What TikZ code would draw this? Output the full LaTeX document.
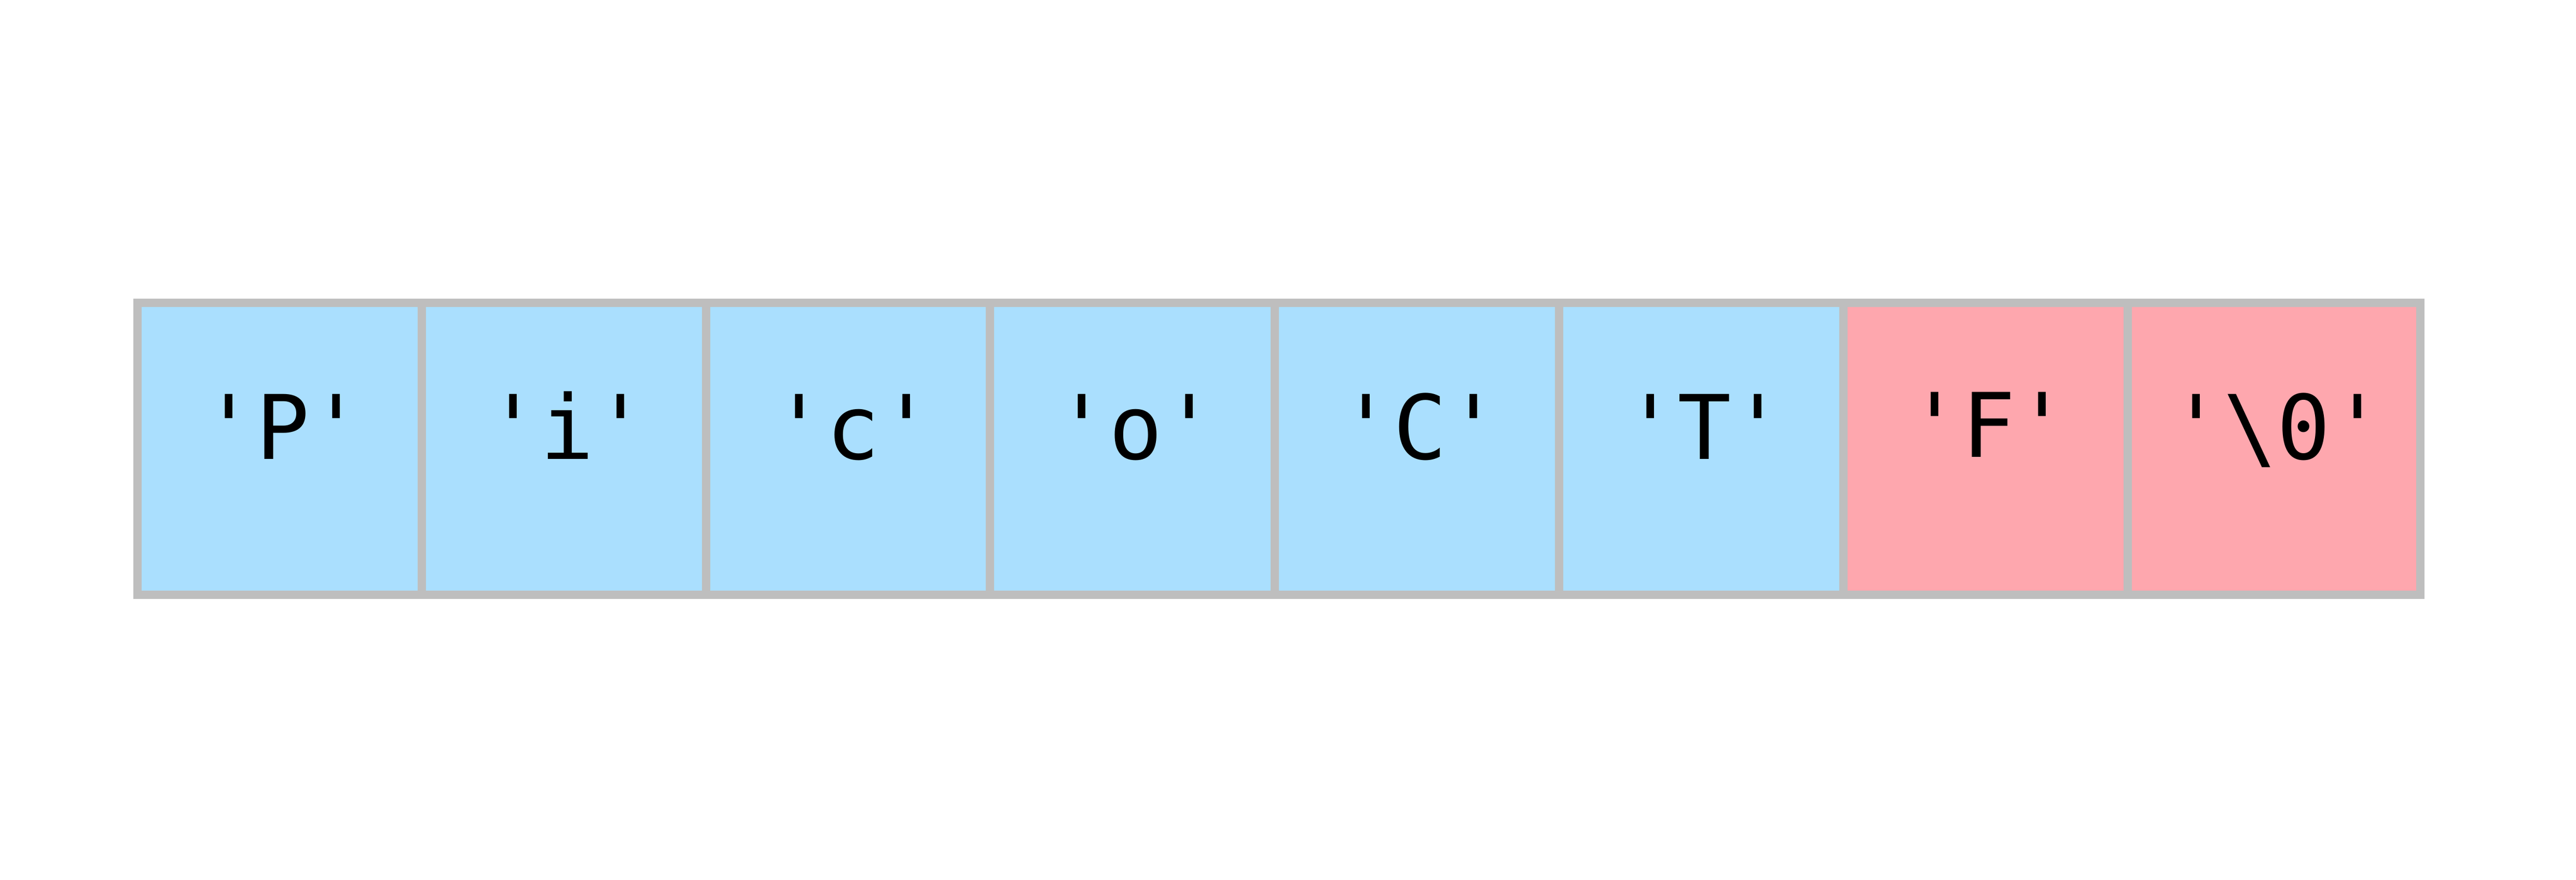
\documentclass[tikz,border=0pt]{standalone}
\usepackage{fontspec}
\setmonofont{DejaVu Sans Mono}
\definecolor{cellblue}{RGB}{170,223,254}
\definecolor{cellred}{RGB}{254,167,174}
\definecolor{cellgray}{RGB}{190,190,190}
\begin{document}
\begin{tikzpicture}[
		grid/.style={draw=cellgray, line width=0.16cm},
		letter/.style={font=\ttfamily\fontsize{48.9}{58}\selectfont, anchor=base, inner sep=0pt}]
		\useasboundingbox[fill=white] (0,0) rectangle (49.65,16.96);

		\fill[cellblue] (2.65,5.49) rectangle (35.53,11.12);
		\fill[cellred] (35.53,5.49) rectangle (46.65,11.12);

		\draw[grid] (2.65,5.49) rectangle (46.65,11.12);

		\draw[grid] (8.13,5.49) -- (8.13,11.12);
		\draw[grid] (13.61,5.49) -- (13.61,11.12);
		\draw[grid] (19.08,5.49) -- (19.08,11.12);
		\draw[grid] (24.57,5.49) -- (24.57,11.12);
		\draw[grid] (30.05,5.49) -- (30.05,11.12);
		\draw[grid] (35.53,5.49) -- (35.53,11.12);
		\draw[grid] (41.01,5.49) -- (41.01,11.12);

		\node[letter] (chP) at (5.45,8.11) {'P'};
		\node[letter] (chi) at (10.93,8.11) {'i'};
		\node[letter] (chc) at (16.44,8.11) {'c'};
		\node[letter] (cho) at (21.89,8.11) {'o'};
		\node[letter] (chC) at (27.37,8.11) {'C'};
		\node[letter] (chT) at (32.85,8.11) {'T'};
		\node[letter] (chF) at (38.33,8.15) {'F'};
		\node[letter] (chnul) at (43.885,8.11) {'\textbackslash 0'};
\end{tikzpicture}
\end{document}
